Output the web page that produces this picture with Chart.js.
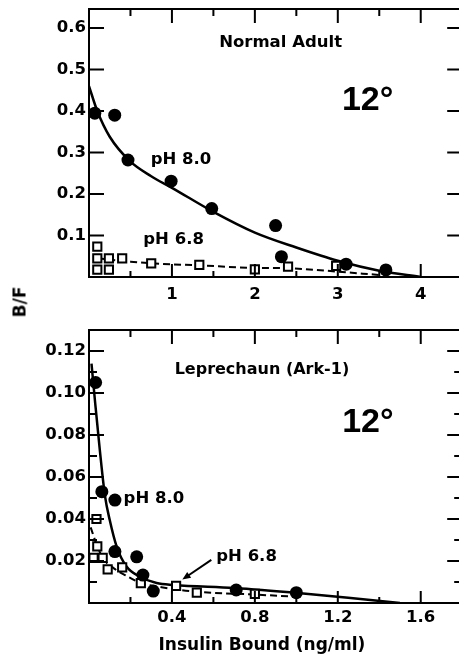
<!DOCTYPE html>
<html><head><meta charset="utf-8">
<script src="https://cdn.jsdelivr.net/npm/chart.js@4.4.1/dist/chart.umd.min.js"></script>
<style>
html,body{margin:0;padding:0;background:#fff;overflow:hidden;width:459px;height:659px;}
#wrap{position:relative;width:459px;height:659px;overflow:hidden;background:#fff;}
#c1{position:absolute;left:0;top:0;}
#c2{position:absolute;left:0;top:310px;}
#bf{position:absolute;left:19.5px;top:302px;transform:translate(-50%,-50%) rotate(-90deg);font:bold 17px "DejaVu Sans";color:#000;white-space:nowrap;line-height:1;}
</style></head><body>
<div id="wrap">
<canvas id="c1" width="470" height="310"></canvas>
<canvas id="c2" width="470" height="349"></canvas>
<div id="bf">B/F</div>
</div>
<script>
// ---------- Normal Adult (top panel) ----------
const adultPh8X = [0.07, 0.31, 0.47, 0.99, 1.48, 2.25, 2.32, 3.10, 3.58];
const adultPh8Y = [0.395, 0.39, 0.282, 0.231, 0.165, 0.124, 0.049, 0.031, 0.017];
const adultPh68X = [0.10, 0.10, 0.10, 0.24, 0.24, 0.40, 0.75, 1.33, 2.0, 2.4, 2.98];
const adultPh68Y = [0.073, 0.045, 0.018, 0.045, 0.018, 0.045, 0.033, 0.029, 0.0185, 0.025, 0.027];
const adultFit8X = [0, 0.1, 0.25, 0.5, 0.75, 1.0, 1.5, 2.0, 2.5, 3.0, 3.5, 4.0];
const adultFit8Y = [0.46, 0.40, 0.338, 0.278, 0.243, 0.215, 0.157, 0.107, 0.071, 0.039, 0.015, 0.0];
const adultFit68X = [0.1, 0.5, 0.75, 1.33, 2.0, 2.4, 3.0, 3.3, 3.5];
const adultFit68Y = [0.045, 0.037, 0.033, 0.028, 0.022, 0.021, 0.013, 0.008, 0.005];
const adultXLabels = ['1', '2', '3', '4'];
const adultYLabels = ['0.1', '0.2', '0.3', '0.4', '0.5', '0.6'];

// ---------- Leprechaun (Ark-1) (bottom panel) ----------
const arkPh8X = [0.032, 0.062, 0.125, 0.125, 0.23, 0.26, 0.31, 0.71, 1.0];
const arkPh8Y = [0.105, 0.053, 0.049, 0.0245, 0.022, 0.0133, 0.0057, 0.0062, 0.0049];
const arkPh68X = [0.036, 0.04, 0.022, 0.066, 0.09, 0.16, 0.25, 0.42, 0.52, 0.80];
const arkPh68Y = [0.040, 0.027, 0.0215, 0.0215, 0.016, 0.017, 0.0095, 0.0082, 0.0049, 0.0043];
const arkFit8X = [0.012, 0.03, 0.052, 0.077, 0.10, 0.133, 0.18, 0.246, 0.326, 0.41, 0.70, 1.02, 1.25, 1.5];
const arkFit8Y = [0.114, 0.095, 0.073, 0.051, 0.0395, 0.027, 0.0175, 0.0125, 0.0095, 0.0086, 0.0071, 0.0046, 0.0025, 0.0];
const arkFit68X = [0.008, 0.04, 0.07, 0.12, 0.18, 0.25, 0.35, 0.5, 0.8, 1.0];
const arkFit68Y = [0.036, 0.027, 0.021, 0.0165, 0.013, 0.0095, 0.0075, 0.0055, 0.004, 0.003];
const arkXLabels = ['0.4', '0.8', '1.2', '1.6'];
const arkYLabels = ['0.02', '0.04', '0.06', '0.08', '0.10', '0.12'];

const xTitle = 'Insulin Bound (ng/ml)';

Chart.defaults.font.family = '"DejaVu Sans", sans-serif';
Chart.defaults.font.weight = 'bold';
Chart.defaults.font.size = 16.5;
Chart.defaults.color = '#000';

const pts = (xs, ys) => xs.map((x, i) => ({x, y: ys[i]}));
// label text for a tick value, only if it sits on one of the listed labels
const labelFor = (v, dec, list) => {
  const s = v.toFixed(dec);
  return (Math.abs(parseFloat(s) - v) < 1e-6 && list.includes(s)) ? s : '';
};

function makeFrame(o) {
  return {
    id: 'frameTicks',
    afterDraw(chart) {
      const {ctx, chartArea: a, scales: {x, y}} = chart;
      ctx.save();
      ctx.strokeStyle = '#000';
      ctx.lineWidth = 2;
      ctx.beginPath();
      x.ticks.forEach(t => {
        const px = x.getPixelForValue(t.value);
        if (px <= a.left + 1 || px >= a.right - 1) return;
        const m = o.xMajor(t.value);
        ctx.moveTo(px, a.bottom); ctx.lineTo(px, a.bottom - (m ? o.xb[0] : o.xb[1]));
        ctx.moveTo(px, a.top); ctx.lineTo(px, a.top + (m ? o.xt[0] : o.xt[1]));
      });
      y.ticks.forEach(t => {
        const py = y.getPixelForValue(t.value);
        if (py >= a.bottom - 1 || py <= a.top + 1) return;
        const len = o.yMajor(t.value) ? o.yl[0] : o.yl[1];
        ctx.moveTo(a.left, py); ctx.lineTo(a.left + len, py);
        ctx.moveTo(a.right, py); ctx.lineTo(a.right - len, py);
      });
      ctx.stroke();
      ctx.strokeRect(a.left, a.top, a.right - a.left, a.bottom - a.top);
      ctx.restore();
    }
  };
}

function makeNotes(notes, arrows) {
  return {
    id: 'notes',
    afterDraw(chart) {
      const {ctx, scales: {x, y}} = chart;
      ctx.save();
      ctx.fillStyle = '#000';
      ctx.textAlign = 'center';
      ctx.textBaseline = 'middle';
      notes.forEach(n => {
        ctx.font = n.font;
        ctx.fillText(n.t, x.getPixelForValue(n.x), y.getPixelForValue(n.y));
      });
      (arrows || []).forEach(ar => {
        const x1 = x.getPixelForValue(ar.x1), y1 = y.getPixelForValue(ar.y1);
        const x2 = x.getPixelForValue(ar.x2), y2 = y.getPixelForValue(ar.y2);
        const ang = Math.atan2(y2 - y1, x2 - x1), h = 9;
        ctx.strokeStyle = '#000'; ctx.lineWidth = 2;
        ctx.beginPath(); ctx.moveTo(x1, y1);
        ctx.lineTo(x2 - Math.cos(ang) * h * 0.8, y2 - Math.sin(ang) * h * 0.8); ctx.stroke();
        ctx.beginPath(); ctx.moveTo(x2, y2);
        ctx.lineTo(x2 - h * Math.cos(ang - 0.4), y2 - h * Math.sin(ang - 0.4));
        ctx.lineTo(x2 - h * Math.cos(ang + 0.4), y2 - h * Math.sin(ang + 0.4));
        ctx.closePath(); ctx.fill();
      });
      ctx.restore();
    }
  };
}

function datasets(p8x, p8y, p68x, p68y, f8x, f8y, f68x, f68y) {
  return [
    {label: 'pH 8.0', data: pts(p8x, p8y), pointRadius: 6.5, backgroundColor: '#000', borderWidth: 0, clip: 10},
    {label: 'pH 6.8', data: pts(p68x, p68y), pointStyle: 'rect', pointRadius: 5.8, backgroundColor: '#fff', borderColor: '#000', borderWidth: 2, clip: 10},
    {label: 'pH 8.0 fit', data: pts(f8x, f8y), showLine: true, pointRadius: 0, borderColor: '#000', borderWidth: 2.5, cubicInterpolationMode: 'monotone', fill: false},
    {label: 'pH 6.8 fit', data: pts(f68x, f68y), showLine: true, pointRadius: 0, borderColor: '#000', borderWidth: 2, borderDash: [7, 4], cubicInterpolationMode: 'monotone', fill: false}
  ];
}

function baseOpts(o) {
  return {
    responsive: false, animation: false, devicePixelRatio: 1, events: [],
    layout: {padding: {top: o.padTop, right: o.padRight, left: 0, bottom: 0}},
    plugins: {legend: {display: false}, tooltip: {enabled: false}},
    scales: {
      x: {
        type: 'linear', min: 0, max: o.xMax,
        grid: {display: false, drawTicks: false}, border: {display: false},
        ticks: {stepSize: o.xStep, padding: o.xPad, autoSkip: false, maxRotation: 0, minRotation: 0, includeBounds: false,
          callback: v => labelFor(v, o.xDec, o.xLabels)},
        afterFit: s => { s.height = o.xHeight; s.paddingLeft = 0; s.paddingRight = 0; }
      },
      y: {
        type: 'linear', min: 0, max: o.yMax,
        grid: {display: false, drawTicks: false}, border: {display: false},
        ticks: {stepSize: o.yStep, padding: 3, autoSkip: false, includeBounds: false,
          callback: v => labelFor(v, o.yDec, o.yLabels)},
        afterFit: s => { s.width = 89; s.paddingTop = 0; s.paddingBottom = 0; }
      }
    }
  };
}

new Chart(document.getElementById('c1'), {
  type: 'scatter',
  data: {datasets: datasets(adultPh8X, adultPh8Y, adultPh68X, adultPh68Y, adultFit8X, adultFit8Y, adultFit68X, adultFit68Y)},
  options: baseOpts({padTop: 9, padRight: 7.5, xMax: 4.5, xStep: 0.5, xPad: 8, xDec: 0, xLabels: adultXLabels, xHeight: 33,
    yMax: 0.646, yStep: 0.1, yDec: 1, yLabels: adultYLabels}),
  plugins: [
    makeFrame({xMajor: v => Math.abs(v - Math.round(v)) < 1e-6, yMajor: v => true, xb: [13, 6], xt: [14, 7], yl: [15, 8]}),
    makeNotes([
      {t: 'Normal Adult', x: 2.31, y: 0.564, font: 'bold 16.5px "DejaVu Sans"'},
      {t: '12°', x: 3.36, y: 0.425, font: 'bold 34px "Liberation Sans"'},
      {t: 'pH 8.0', x: 1.11, y: 0.282, font: 'bold 16.5px "DejaVu Sans"'},
      {t: 'pH 6.8', x: 1.02, y: 0.089, font: 'bold 16.5px "DejaVu Sans"'}
    ])
  ]
});

new Chart(document.getElementById('c2'), {
  type: 'scatter',
  data: {datasets: datasets(arkPh8X, arkPh8Y, arkPh68X, arkPh68Y, arkFit8X, arkFit8Y, arkFit68X, arkFit68Y)},
  options: baseOpts({padTop: 20, padRight: 7.5, xMax: 1.8, xStep: 0.2, xPad: 5, xDec: 1, xLabels: arkXLabels, xHeight: 56,
    yMax: 0.13, yStep: 0.01, yDec: 2, yLabels: arkYLabels}),
  plugins: [
    makeFrame({xMajor: v => labelFor(v, 1, arkXLabels) !== '', yMajor: v => labelFor(v, 2, arkYLabels) !== '', xb: [12, 6], xt: [14, 7], yl: [15, 8]}),
    makeNotes([
      {t: 'Leprechaun (Ark-1)', x: 0.834, y: 0.111, font: 'bold 16px "DejaVu Sans"'},
      {t: '12°', x: 1.345, y: 0.0857, font: 'bold 34px "Liberation Sans"'},
      {t: 'pH 8.0', x: 0.313, y: 0.0497, font: 'bold 16.5px "DejaVu Sans"'},
      {t: 'pH 6.8', x: 0.76, y: 0.0219, font: 'bold 16.5px "DejaVu Sans"'},
      {t: xTitle, x: 0.834, y: -0.0205, font: 'bold 17px "DejaVu Sans"'}
    ], [
      {x1: 0.59, y1: 0.0205, x2: 0.45, y2: 0.0112}
    ])
  ]
});
</script>
</body></html>
